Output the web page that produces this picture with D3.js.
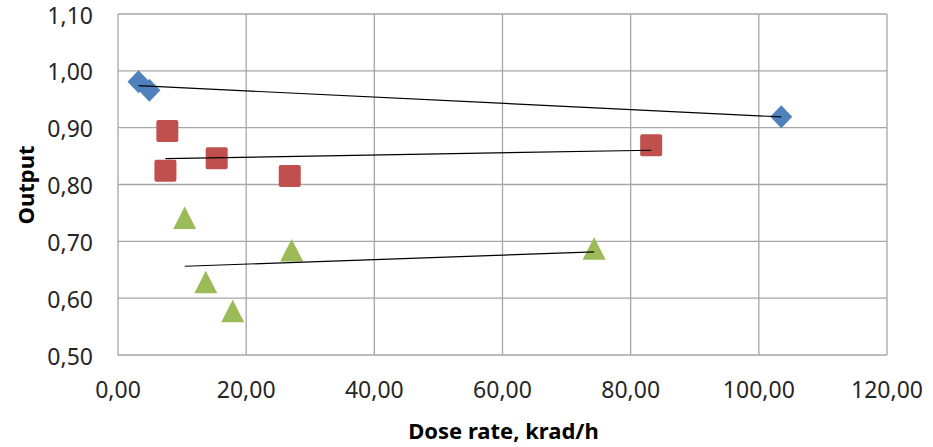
<!DOCTYPE html>
<html>
<head>
<meta charset="utf-8">
<script src="https://cdnjs.cloudflare.com/ajax/libs/d3/7.8.5/d3.min.js"></script>
<style>
  body { margin: 0; background: #fff; }
  text { font-family: "Noto Sans", "Open Sans", sans-serif; fill: #262626; }
</style>
</head>
<body>
<div id="graphic1"></div>
<script>
var xTicks = [0, 20, 40, 60, 80, 100, 120],
    yTicks = [0.5, 0.6, 0.7, 0.8, 0.9, 1.0, 1.1];

var blueX = [3.2, 4.9, 103.5],
    blueY = [0.981, 0.966, 0.919];
var redX = [7.7, 7.4, 15.4, 26.8, 83.2],
    redY = [0.894, 0.824, 0.846, 0.815, 0.869];
var greenX = [10.4, 13.7, 17.9, 27.1, 74.3],
    greenY = [0.741, 0.628, 0.577, 0.684, 0.687];

var series = [
    { x: blueX, y: blueY, color: "#4F81BD", shape: "diamond" },
    { x: redX, y: redY, color: "#C0504D", shape: "square" },
    { x: greenX, y: greenY, color: "#9BBB59", shape: "triangle" }
];

function fmt(v, d) {
    return v.toFixed(d).replace(".", ",");
}

// least squares fit, like the excel linear trendline
function linFit(xs, ys) {
    var mx = d3.mean(xs), my = d3.mean(ys), sxy = 0, sxx = 0;
    xs.forEach(function (x, i) {
        sxy += (x - mx) * (ys[i] - my);
        sxx += (x - mx) * (x - mx);
    });
    var b = sxy / sxx, a = my - b * mx;
    return function (x) { return a + b * x; };
}

function shapePath(shape) {
    if (shape == "diamond") return "M0,-11.5L11,0L0,11.5L-11,0Z";
    if (shape == "triangle") return "M0,-11.5L11.5,11L-11.5,11Z";
    return null;
}

function graph1() {
    var margin = { top: 14, right: 46, bottom: 92, left: 118 };
    var width = 933 - margin.left - margin.right,
        height = 447 - margin.top - margin.bottom;

    var svg = d3.select("#graphic1").append("svg")
        .attr("width", 933)
        .attr("height", 447)
        .append("g")
        .attr("transform", "translate(" + margin.left + "," + margin.top + ")");

    var x = d3.scaleLinear().domain([0, 120]).range([0, width]);
    var y = d3.scaleLinear().domain([0.5, 1.1]).range([height, 0]);

    // gridlines
    svg.selectAll(".hgrid").data(yTicks).enter().append("line")
        .attr("x1", 0).attr("x2", width)
        .attr("y1", function (d) { return y(d); })
        .attr("y2", function (d) { return y(d); })
        .attr("stroke", "#a6a6a6").attr("stroke-width", 1.3);
    svg.selectAll(".vgrid").data(xTicks).enter().append("line")
        .attr("y1", 0).attr("y2", height)
        .attr("x1", function (d) { return x(d); })
        .attr("x2", function (d) { return x(d); })
        .attr("stroke", "#a6a6a6").attr("stroke-width", 1.3);

    // tick labels
    svg.selectAll(".ylab").data(yTicks).enter().append("text")
        .attr("x", -25)
        .attr("y", function (d) { return y(d); })
        .attr("dy", "0.42em")
        .attr("text-anchor", "end")
        .style("font-size", "23px")
        .text(function (d) { return fmt(d, 2); });
    svg.selectAll(".xlab").data(xTicks).enter().append("text")
        .attr("x", function (d) { return x(d); })
        .attr("y", height + 35)
        .attr("dy", "0.36em")
        .attr("text-anchor", "middle")
        .style("font-size", "23px")
        .text(function (d) { return fmt(d, 2); });

    // axis titles
    svg.append("text")
        .attr("x", width / 2 + 1)
        .attr("y", height + 84)
        .attr("text-anchor", "middle")
        .style("font-size", "22px")
        .style("font-weight", "bold")
        .style("fill", "#000")
        .text("Dose rate, krad/h");
    svg.append("text")
        .attr("transform", "translate(" + (-84) + "," + (171) + ") rotate(-90)")
        .attr("text-anchor", "middle")
        .style("font-size", "22px")
        .style("font-weight", "bold")
        .style("fill", "#000")
        .text("Output");

    // markers
    series.forEach(function (s) {
        var pts = s.x.map(function (v, i) { return [v, s.y[i]]; });
        var g = svg.append("g");
        if (s.shape == "square") {
            g.selectAll("rect").data(pts).enter().append("rect")
                .attr("x", function (d) { return x(d[0]) - 11; })
                .attr("y", function (d) { return y(d[1]) - 11; })
                .attr("width", 22).attr("height", 22)
                .attr("rx", 2)
                .attr("fill", s.color);
        } else {
            g.selectAll("path").data(pts).enter().append("path")
                .attr("transform", function (d) { return "translate(" + x(d[0]) + "," + y(d[1]) + ")"; })
                .attr("d", shapePath(s.shape))
                .attr("fill", s.color);
        }
    });

    // trendlines on top
    series.forEach(function (s) {
        var f = linFit(s.x, s.y),
            x0 = d3.min(s.x), x1 = d3.max(s.x);
        svg.append("line")
            .attr("x1", x(x0)).attr("y1", y(f(x0)))
            .attr("x2", x(x1)).attr("y2", y(f(x1)))
            .attr("stroke", "#000").attr("stroke-width", 1.2);
    });
}

graph1();
</script>
</body>
</html>
